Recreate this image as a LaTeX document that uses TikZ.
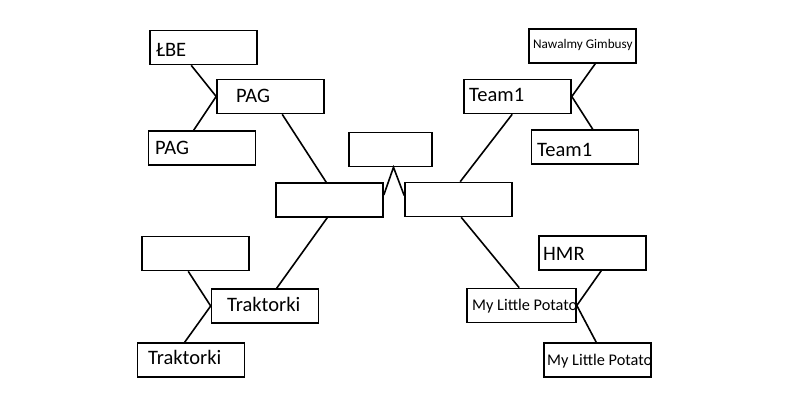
\documentclass[tikz,border=0pt]{standalone}
\usepackage{fontspec}
\setmainfont{Carlito}
\tikzset{
  box/.style={draw, line width=1.6pt, minimum width=107pt, minimum height=34pt, inner sep=0pt},
  lbl/.style={anchor=base west, inner sep=0pt, font=\fontsize{20.5}{24}\selectfont},
  wire/.style={line width=1.6pt},
}
\begin{document}
\begin{tikzpicture}[x=1pt, y=-1pt]
	\useasboundingbox (0,0) rectangle (788,419);
	% Boxes:
	\node[box] (lbe) at (203.5,47.5) {};
	\node[box] (pagm) at (270.5,96.5) {};
	\node[box] (pagl) at (202,148) {};
	\node[box, minimum width=83pt] (top) at (390.5,149.5) {};
	\node[box] (cl) at (329.5,200) {};
	\node[box] (cr) at (458.5,199.5) {};
	\node[box] (teamm) at (517.5,96.5) {};
	\node[box] (nawal) at (582.5,46) {};
	\node[box] (teaml) at (585,147) {};
	\node[box] (empty) at (195.5,253.5) {};
	\node[box] (trakm) at (265,306) {};
	\node[box] (trakl) at (191,360) {};
	\node[box] (hmr) at (592.5,253) {};
	\node[box, minimum width=109pt] (mlpm) at (521.5,305.5) {};
	\node[box] (mlpl) at (597.5,360) {};
	% Texts:
	\node[lbl] (lbe-t) at (156,57) {ŁBE};
	\node[lbl] (pagm-t) at (236,103) {PAG};
	\node[lbl] (pagl-t) at (155,155) {PAG};
	\node[lbl] (teamm-t) at (469,102) {Team1};
	\node[lbl] (teaml-t) at (537,157) {Team1};
	\node[lbl, font=\fontsize{13.2}{16}\selectfont] (nawal-t) at (533,49) {Nawalmy Gimbusy};
	\node[lbl] (trakm-t) at (227,312) {Traktorki};
	\node[lbl] (trakl-t) at (148,365) {Traktorki};
	\node[lbl] (hmr-t) at (543,261) {HMR};
	\node[lbl, font=\fontsize{16.3}{19}\selectfont] (mlpm-t) at (472,311) {My Little Potato};
	\node[lbl, font=\fontsize{16.3}{19}\selectfont] (mlpl-t) at (547,366) {My Little Potato};
	% Lines:
	\draw[wire] ([xshift=42pt]lbe.south west) -- (pagm.west);
	\draw[wire] ([xshift=46pt]pagl.north west) -- (pagm.west);
	\draw[wire] ([xshift=66pt]pagm.south west) -- ([xshift=51pt]cl.north west);
	\draw[wire] ([xshift=49pt]teamm.south west) -- ([xshift=56pt]cr.north west);
	\draw[wire] ([xshift=67pt]nawal.south west) -- (teamm.east);
	\draw[wire] (teamm.east) -- ([xshift=62pt]teaml.north west);
	\draw[wire] ([xshift=47pt]empty.south west) -- (trakm.west);
	\draw[wire] ([xshift=48pt]trakl.north west) -- (trakm.west);
	\draw[wire] ([xshift=66pt]trakm.north west) -- ([xshift=52pt]cl.south west);
	\draw[wire] ([xshift=57pt]cr.south west) -- ([xshift=53pt]mlpm.north west);
	\draw[wire] ([xshift=63pt]hmr.south west) -- (mlpm.east);
	\draw[wire] (mlpm.east) -- ([xshift=53pt]mlpl.north west);
	\draw[wire] ([yshift=5pt]cl.east) -- ([xshift=3pt]top.south) -- ([yshift=4pt]cr.west);
\end{tikzpicture}
\end{document}
